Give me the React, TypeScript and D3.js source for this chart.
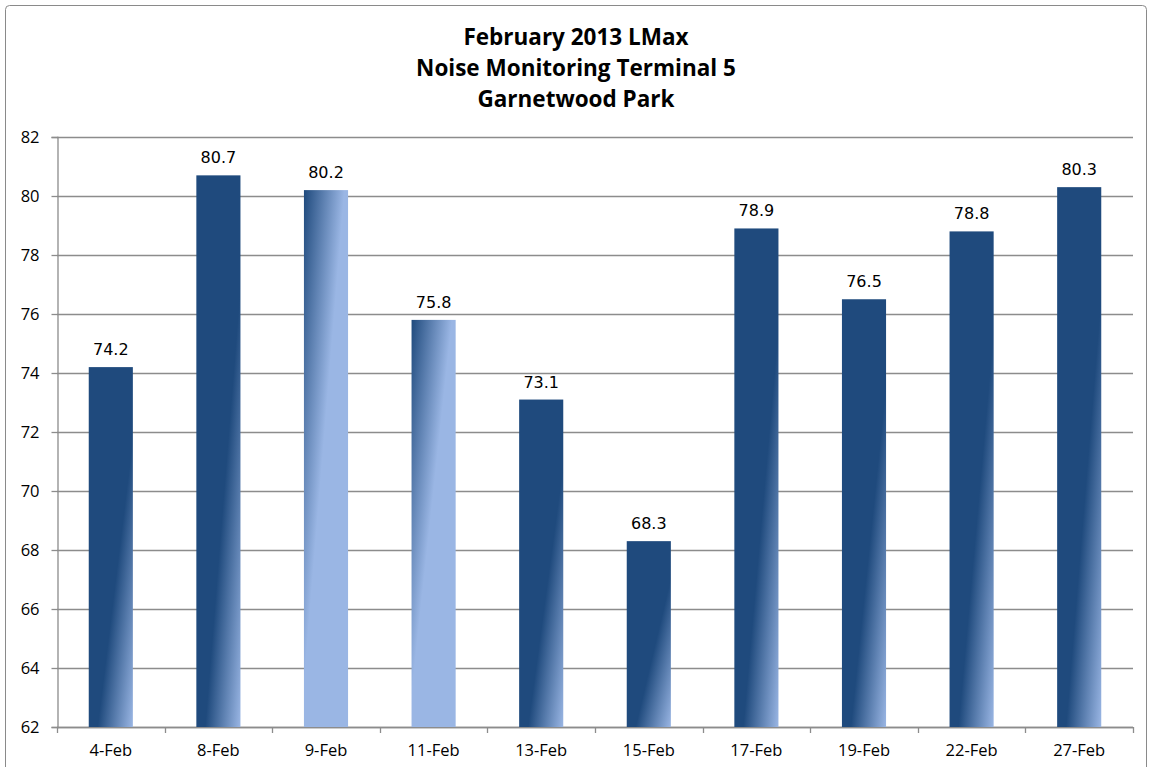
import React, { useEffect, useRef } from 'react';
import * as d3 from 'd3';

const categories = ['4-Feb', '8-Feb', '9-Feb', '11-Feb', '13-Feb', '15-Feb', '17-Feb', '19-Feb', '22-Feb', '27-Feb'];
const values = [74.2, 80.7, 80.2, 75.8, 73.1, 68.3, 78.9, 76.5, 78.8, 80.3];
// which bars use the light-faded fill style
const lightBars = [false, false, true, true, false, false, false, false, false, false];
const yTicks = [62, 64, 66, 68, 70, 72, 74, 76, 78, 80, 82];
const titleLines = ['February 2013 LMax', 'Noise Monitoring Terminal 5', 'Garnetwood Park'];

const DARK = '#1f4a7d';
const LIGHT = '#9ab6e4';

const App: React.FC = () => {
  const svgRef = useRef<SVGSVGElement>(null);

  useEffect(() => {
    if (!svgRef.current) return;

    const W = 1151;
    const H = 767;
    const margin = { top: 137, right: 18, bottom: 40, left: 57 };
    const width = W - margin.left - margin.right;
    const height = H - margin.top - margin.bottom;

    const svg = d3.select(svgRef.current);
    svg.selectAll('*').remove();
    svg.attr('width', W).attr('height', H);

    // gradients
    const defs = svg.append('defs');
    const darkGrad = defs.append('linearGradient')
      .attr('id', 'gDark')
      .attr('x1', 0).attr('y1', 0).attr('x2', 1).attr('y2', 1);
    darkGrad.append('stop').attr('offset', '0').attr('stop-color', DARK);
    darkGrad.append('stop').attr('offset', '0.6').attr('stop-color', DARK);
    darkGrad.append('stop').attr('offset', '1').attr('stop-color', LIGHT);

    const lightGrad = defs.append('linearGradient')
      .attr('id', 'gLight')
      .attr('x1', 0).attr('y1', 0).attr('x2', 1).attr('y2', 1);
    lightGrad.append('stop').attr('offset', '0').attr('stop-color', DARK);
    lightGrad.append('stop').attr('offset', '0.46').attr('stop-color', LIGHT);
    lightGrad.append('stop').attr('offset', '1').attr('stop-color', LIGHT);

    // outer chart border
    svg.append('rect')
      .attr('x', 5.5).attr('y', 5.5)
      .attr('width', 1141).attr('height', 780)
      .attr('rx', 4)
      .attr('fill', 'white')
      .attr('stroke', '#8a8a8a')
      .attr('stroke-width', 1);

    // title
    svg.append('g')
      .selectAll('text')
      .data(titleLines)
      .enter()
      .append('text')
      .attr('x', 576)
      .attr('y', (_, i) => 45 + i * 31)
      .attr('text-anchor', 'middle')
      .style('font-family', '"Open Sans", sans-serif')
      .style('font-weight', 'bold')
      .style('font-size', '22.5px')
      .style('fill', '#000')
      .text(d => d);

    const g = svg.append('g')
      .attr('transform', `translate(${margin.left},${margin.top})`);

    const x = d3.scaleBand()
      .domain(categories)
      .range([0, width])
      .paddingInner(0.59)
      .paddingOuter(0.295);

    const y = d3.scaleLinear()
      .domain([62, 82])
      .range([height, 0]);

    // gridlines
    g.append('g')
      .selectAll('line')
      .data(yTicks)
      .enter()
      .append('line')
      .attr('x1', 0)
      .attr('x2', width)
      .attr('y1', d => Math.round(y(d)) + 0.5)
      .attr('y2', d => Math.round(y(d)) + 0.5)
      .attr('stroke', '#8c8c8c')
      .attr('stroke-width', 1.3);

    // y axis
    const yAxis = g.append('g')
      .attr('transform', 'translate(0.5,0)')
      .call(d3.axisLeft(y).tickValues(yTicks).tickSize(6).tickPadding(12).tickFormat(d3.format('d')));
    yAxis.select('.domain').attr('stroke', '#8c8c8c').attr('stroke-width', 1.3);
    yAxis.selectAll('.tick line').attr('stroke', '#8c8c8c').attr('stroke-width', 1.3);
    yAxis.selectAll('text')
      .style('font-family', '"Open Sans", sans-serif')
      .style('font-size', '16.5px')
      .style('fill', '#000');

    // x axis with ticks at category boundaries
    const step = x.step();
    const boundaries = d3.range(categories.length + 1).map(i => i * step);
    const xAxisG = g.append('g').attr('transform', `translate(0,${height})`);
    xAxisG.append('line')
      .attr('x1', 0).attr('x2', width)
      .attr('y1', 0.5).attr('y2', 0.5)
      .attr('stroke', '#8c8c8c').attr('stroke-width', 1.3);
    xAxisG.selectAll('line.tick')
      .data(boundaries)
      .enter()
      .append('line')
      .classed('tick', true)
      .attr('x1', d => Math.round(d) + 0.5)
      .attr('x2', d => Math.round(d) + 0.5)
      .attr('y1', 0).attr('y2', 6)
      .attr('stroke', '#8c8c8c').attr('stroke-width', 1.3);
    xAxisG.selectAll('text')
      .data(categories)
      .enter()
      .append('text')
      .attr('x', d => (x(d) || 0) + x.bandwidth() / 2)
      .attr('y', 29)
      .attr('text-anchor', 'middle')
      .style('font-family', '"Open Sans", sans-serif')
      .style('font-size', '16.5px')
      .style('fill', '#000')
      .text(d => d);

    // bars
    g.append('g')
      .selectAll('rect')
      .data(categories)
      .enter()
      .append('rect')
      .attr('x', d => x(d) || 0)
      .attr('y', (_, i) => y(values[i]))
      .attr('width', x.bandwidth())
      .attr('height', (_, i) => height - y(values[i]))
      .attr('fill', (_, i) => (lightBars[i] ? 'url(#gLight)' : 'url(#gDark)'));

    // data labels
    g.append('g')
      .selectAll('text')
      .data(categories)
      .enter()
      .append('text')
      .attr('x', d => (x(d) || 0) + x.bandwidth() / 2)
      .attr('y', (_, i) => y(values[i]) - 12)
      .attr('text-anchor', 'middle')
      .style('font-family', '"DejaVu Sans", sans-serif')
      .style('font-size', '16px')
      .style('fill', '#000')
      .text((_, i) => values[i].toFixed(1));
  }, []);

  return (
    <div style={{ position: 'absolute', left: 0, top: 0 }}>
      <svg ref={svgRef}></svg>
    </div>
  );
};

export default App;
